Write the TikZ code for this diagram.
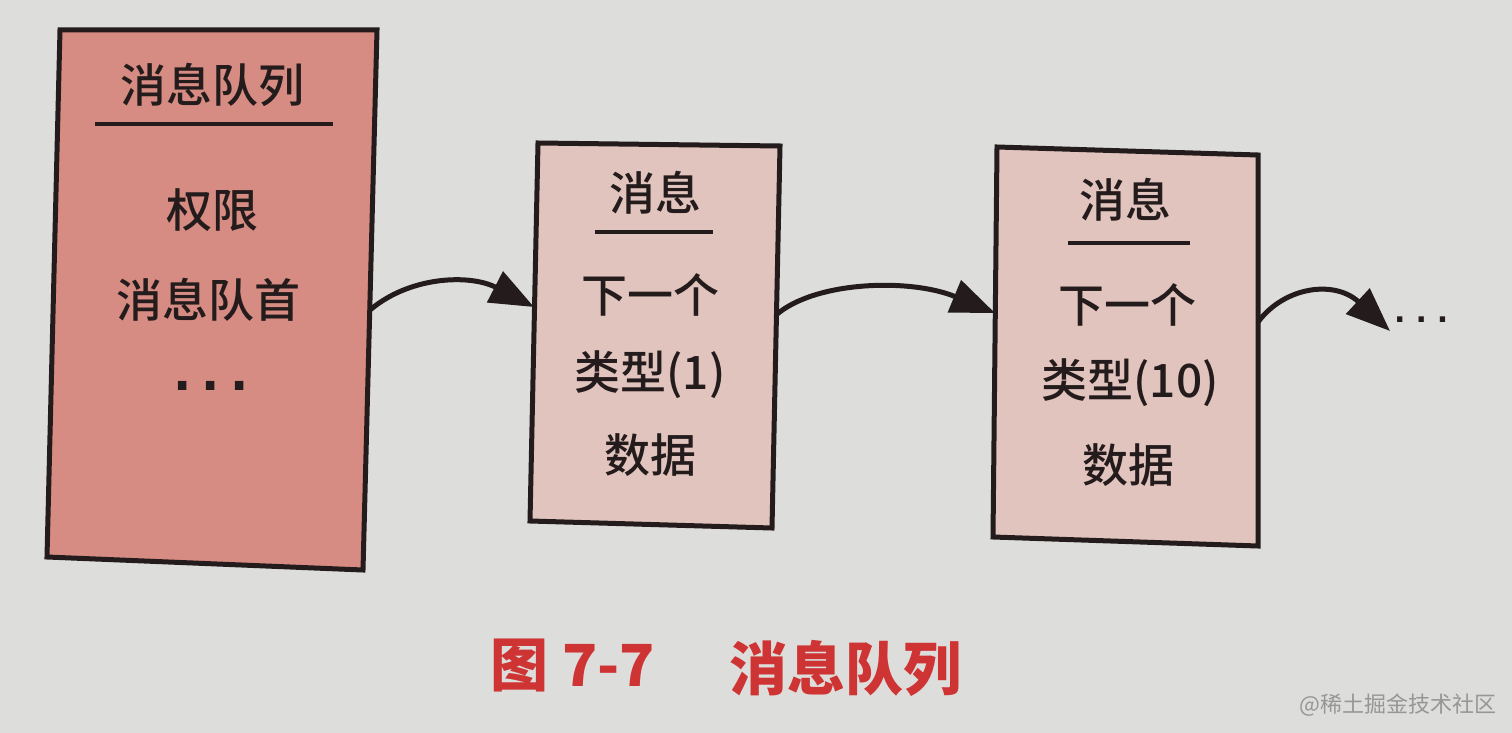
\documentclass[tikz,border=0pt]{standalone}
\usepackage{fontspec}
\setmainfont{Noto Sans CJK SC}
\newfontfamily\midfont{Noto Sans CJK SC}[UprightFont=* Medium]
\newfontfamily\dotfont{DejaVu Sans}
\usetikzlibrary{arrows.meta}
\definecolor{bg}{RGB}{221,222,219}
\definecolor{qfill}{RGB}{214,140,130}
\definecolor{mfill}{RGB}{226,196,190}
\definecolor{ink}{RGB}{36,28,28}
\definecolor{capred}{RGB}{206,52,52}
\definecolor{wm}{RGB}{150,150,150}
\begin{document}
\begin{tikzpicture}[x=1pt,y=-1pt,
  boxline/.style={draw=ink,line width=5pt,line join=miter},
  txt/.style={text=ink,font=\midfont\fontsize{46}{50}\selectfont,inner sep=0pt,anchor=center},
  rulebar/.style={draw=ink,line width=4.5pt},
  link/.style={draw=ink,line width=5pt,-{Triangle[length=44pt,width=34pt]}},
  captxt/.style={text=capred,font=\fontsize{58}{60}\selectfont\bfseries,inner sep=0pt,anchor=center}
]
\fill[bg] (0,0) rectangle (1512,733);
\useasboundingbox (0,0) rectangle (1512,733);

% box 1: message queue
\coordinate (a1) at (60,30);  \coordinate (a2) at (377,30);
\coordinate (a3) at (363,570); \coordinate (a4) at (47,557);
\filldraw[boxline,fill=qfill] (a1)--(a2)--(a3)--(a4)--cycle;
\node[txt] (qt) at (212,85) {消息队列};
\coordinate (qr1) at (95,124); \coordinate (qr2) at (333,124);
\draw[rulebar] (qr1) -- (qr2);
\node[txt] (qp) at (212,210) {权限};
\node[txt] (qh) at (208,300) {消息队首};
\node[txt,font=\dotfont\fontsize{48}{48}\selectfont\bfseries] (qd) at (211,386) {.\kern10pt.\kern10pt.};

% box 2
\coordinate (b1) at (538,143); \coordinate (b2) at (780,146);
\coordinate (b3) at (772,528); \coordinate (b4) at (530,521);
\filldraw[boxline,fill=mfill] (b1)--(b2)--(b3)--(b4)--cycle;
\node[txt] (mt1) at (655,193) {消息};
\coordinate (mr1a) at (595,232); \coordinate (mr1b) at (713,232);
\draw[rulebar] (mr1a) -- (mr1b);
\node[txt] (mn1) at (650,295) {下一个};
\node[txt] (my1) at (650,375) {类型(1)};
\node[txt] (md1) at (650,455) {数据};

% box 3
\coordinate (c1) at (997,147); \coordinate (c2) at (1258,155);
\coordinate (c3) at (1258,546); \coordinate (c4) at (993,537);
\filldraw[boxline,fill=mfill] (c1)--(c2)--(c3)--(c4)--cycle;
\node[txt] (mt2) at (1125,200) {消息};
\coordinate (mr2a) at (1068,243); \coordinate (mr2b) at (1190,243);
\draw[rulebar] (mr2a) -- (mr2b);
\node[txt] (mn2) at (1127,305) {下一个};
\node[txt] (my2) at (1130,383) {类型(10)};
\node[txt] (md2) at (1128,465) {数据};

% connectors
\coordinate (e1) at (370,310); \coordinate (w2) at (534,307);
\coordinate (e2) at (776,315); \coordinate (w3) at (995,313);
\coordinate (e3) at (1258,322); \coordinate (more) at (1390,331);
\draw[link] (e1) .. controls (410,276) and (470,274) .. (w2);
\draw[link] (e2) .. controls (815,281) and (910,278) .. (w3);
\draw[link] (e3) .. controls (1285,286) and (1335,280) .. (more);
\node[txt,font=\dotfont\fontsize{30}{30}\selectfont\bfseries,anchor=west] (dots) at (1394,320) {.\kern10pt.\kern10pt.};

% caption
\node[captxt] (fig) at (573,665) {图 7-7};
\node[captxt] (title) at (845,668) {消息队列};
\node[text=wm,font=\fontsize{22}{24}\selectfont,inner sep=0pt] (wmark) at (1398,705) {@稀土掘金技术社区};
\end{tikzpicture}
\end{document}
